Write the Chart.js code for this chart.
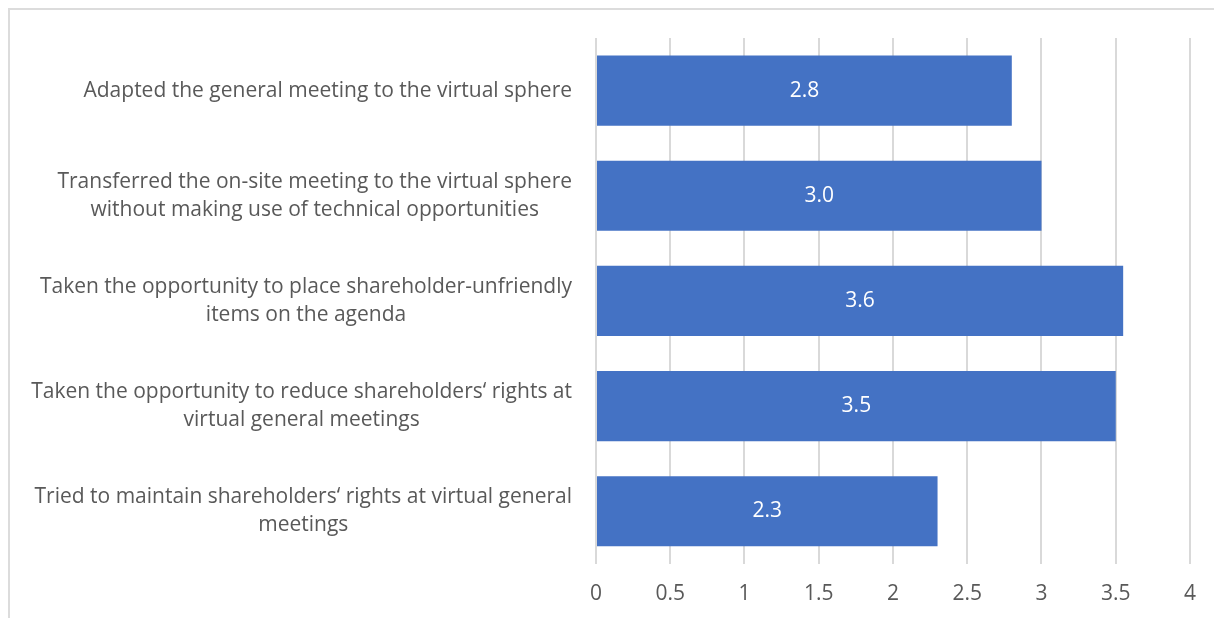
<!DOCTYPE html>
<html>
<head>
<meta charset="utf-8">
<script src="https://cdn.jsdelivr.net/npm/chart.js@4.4.0/dist/chart.umd.min.js"></script>
<style>
html,body{margin:0;padding:0;background:#fff;width:1214px;height:618px;overflow:hidden;}
#frame{position:absolute;left:8px;top:8px;width:1300px;height:700px;border-left:2px solid #dcdcdc;border-top:2px solid #dcdcdc;box-sizing:border-box;}
#wrap{position:absolute;left:0;top:0;width:1214px;height:618px;}
</style>
</head>
<body>
<div id="frame"></div>
<div id="wrap"><canvas id="c" width="1214" height="618"></canvas></div>
<script>
const categories = [
  ["Adapted the general meeting to the virtual sphere"],
  ["Transferred the on-site meeting to the virtual sphere", "without making use of technical opportunities"],
  ["Taken the opportunity to place shareholder-unfriendly", "items on the agenda"],
  ["Taken the opportunity to reduce shareholders\u2018 rights at", "virtual general meetings"],
  ["Tried to maintain shareholders\u2018 rights at virtual general", "meetings"]
];
const values = [2.8, 3.0, 3.55, 3.5, 2.3];
const xTicks = [0, 0.5, 1, 1.5, 2, 2.5, 3, 3.5, 4];
const xTickLabels = ["0", "0.5", "1", "1.5", "2", "2.5", "3", "3.5", "4"];

const FONT = "'Open Sans', Lato, sans-serif";
const TEXT = "#595959";

const labelPlugin = {
  id: 'customLabels',
  afterDatasetsDraw(chart) {
    const ctx = chart.ctx;
    const yScale = chart.scales.y;
    const meta = chart.getDatasetMeta(0);
    ctx.save();
    ctx.font = "21px " + FONT;
    ctx.fillStyle = TEXT;
    ctx.textBaseline = "middle";
    ctx.textAlign = "center";
    const rightEdge = 572;
    const lineH = 28;
    categories.forEach((lines, i) => {
      const yc = yScale.getPixelForValue(i);
      const w = Math.max(...lines.map(l => ctx.measureText(l).width));
      const cx = rightEdge - w / 2;
      const y0 = yc - (lines.length - 1) * lineH / 2;
      lines.forEach((l, j) => ctx.fillText(l, cx, y0 + j * lineH));
    });
    ctx.font = "21px " + FONT;
    ctx.fillStyle = "#ffffff";
    meta.data.forEach((bar, i) => {
      const v = values[i];
      const txt = (Math.round(v * 10) / 10).toFixed(1);
      ctx.fillText(txt, (bar.x + bar.base) / 2, bar.y);
    });
    ctx.restore();
  }
};

new Chart(document.getElementById('c'), {
  type: 'bar',
  data: {
    labels: categories,
    datasets: [{
      data: values,
      backgroundColor: '#4472C4',
      borderWidth: 0,
      categoryPercentage: 1.0,
      barPercentage: 0.667
    }]
  },
  options: {
    indexAxis: 'y',
    responsive: false,
    animation: false,
    layout: { padding: { left: 596, right: 9, top: 38, bottom: -7 } },
    plugins: { legend: { display: false }, tooltip: { enabled: false } },
    scales: {
      x: {
        min: 0, max: 4,
        afterBuildTicks(scale) { scale.ticks = xTicks.map(v => ({ value: v })); },
        grid: { color: '#d9d9d9', lineWidth: 2, drawTicks: false },
        border: { display: false },
        ticks: {
          color: TEXT, font: { family: FONT, size: 21 }, padding: 18, maxRotation: 0,
          callback: (v, i) => xTickLabels[i]
        }
      },
      y: { display: false }
    }
  },
  plugins: [labelPlugin]
});
</script>
</body>
</html>
